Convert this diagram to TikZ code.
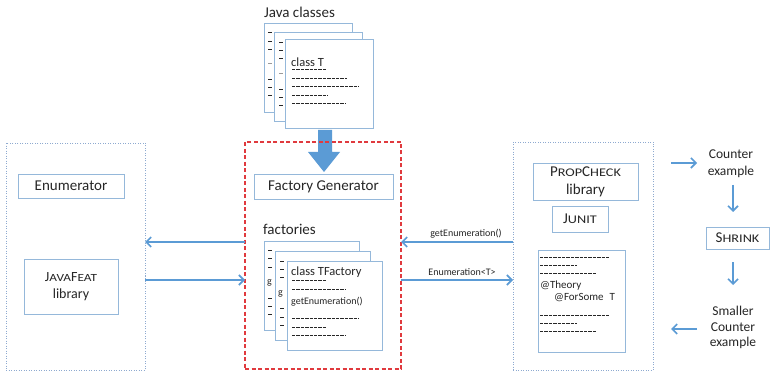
\documentclass[tikz,border=0pt]{standalone}
\usepackage{fontspec}
\usepackage{graphicx}
\setmainfont{Carlito}
\usetikzlibrary{arrows.meta}
\definecolor{bx}{HTML}{95B8DA}
\definecolor{ar}{HTML}{5B9BD5}
\definecolor{rd}{HTML}{E03A3E}
\definecolor{dt}{HTML}{8EAAD0}
\definecolor{tx}{HTML}{262626}
\definecolor{lg}{HTML}{9A9A9A}
\newcommand\sca[1]{\scalebox{0.95}[0.78]{#1}}
\begin{document}
\begin{tikzpicture}[x=1pt,y=-1pt,
  box/.style={draw=bx, line width=0.9pt, fill=white, inner sep=0pt, outer sep=0pt, align=center, text=tx},
  outerbox/.style={draw=dt, line width=0.8pt, dash pattern=on 1pt off 1.5pt, inner sep=0pt, outer sep=0pt},
  redbox/.style={draw=rd, line width=1.1pt, dash pattern=on 4pt off 2.5pt, inner sep=0pt, outer sep=0pt},
  arr/.style={draw=ar, line width=1.6pt, -{Straight Barb[length=5pt,width=10pt]}},
  dl/.style={line width=0.9pt, dash pattern=on 3.4pt off 1pt, tx},
  mk/.style={line width=0.9pt, tx},
  lbl/.style={text=tx, inner sep=0pt, align=center},
  big/.style={font=\fontsize{15}{18}\selectfont},
  mid/.style={font=\fontsize{12.5}{16}\selectfont},
  sml/.style={font=\fontsize{10}{12}\selectfont},
  cod/.style={font=\fontsize{11}{12}\selectfont},
]
\useasboundingbox (0,0) rectangle (770,371);
\fill[white] (0,0) rectangle (770,371);

% ---------- left group ----------
\node[outerbox, minimum width=139pt, minimum height=227pt] (lbox) at (75.5,256.5) {};
\node[box, big, minimum width=106pt, minimum height=24pt] (enum) at (71,186) {Enumerator};
\node[box, minimum width=94pt, minimum height=55pt, font=\fontsize{14}{17}\selectfont] (feat) at (71,286.5) {J\sca{AVA}F\sca{EAT}\\library};

% ---------- Java classes ----------
\node[lbl, big] (jc) at (299.5,12) {Java classes};
\node[box, minimum width=88pt, minimum height=89pt] (jp1) at (308,67.5) {};
\foreach \y in {32,41,49,79,87,95} \draw[mk] (268,\y) -- (272,\y);
\draw[line width=0.8pt, lg] (268,63) -- (272,63);
\node[box, minimum width=88pt, minimum height=89pt] (jp2) at (318.5,77) {};
\foreach \y in {42,50,58,89,97,105} \draw[mk] (279,\y) -- (283,\y);
\draw[line width=0.8pt, lg] (279,73) -- (283,73);
\node[box, minimum width=88pt, minimum height=89pt] (jp3) at (329.5,83.5) {};
\node[lbl, mid, anchor=west] (ct) at (291,62) {class T};
\draw[dl] (292,69) -- +(34,0);
\draw[dl] (292,78) -- +(55,0);
\draw[dl] (292,86) -- +(67,0);
\draw[dl] (292,95) -- +(36,0);
\draw[dl] (292,103) -- +(54,0);

% ---------- big arrow ----------
\fill[ar] (318,130) -- (332,130) -- (332,152) -- (340,152) -- (324,172) -- (308,152) -- (318,152) -- cycle;

% ---------- generator ----------
\node[redbox, minimum width=156pt, minimum height=227pt] (gen) at (323,255.5) {};
\node[box, big, minimum width=139pt, minimum height=25pt] (fg) at (323.5,186.5) {Factory Generator};
\node[lbl, big, anchor=west] (fac) at (263,229) {factories};
\node[box, minimum width=95pt, minimum height=89pt] (fp1) at (311.5,285.5) {};
\foreach \y in {250,258,267,298,306,314} \draw[mk] (268,\y) -- (272,\y);
\node[lbl, font=\fontsize{10}{12}\selectfont, anchor=west] at (267,283) {g};
\node[box, minimum width=95pt, minimum height=89pt] (fp2) at (322.5,295.5) {};
\foreach \y in {261,269,277,308,317,325} \draw[mk] (280,\y) -- (284,\y);
\node[lbl, font=\fontsize{10}{12}\selectfont, anchor=west] at (278,294) {g};
\node[box, minimum width=95pt, minimum height=89pt] (fp3) at (334.5,305.5) {};
\node[lbl, mid, anchor=west] (ctf) at (291,272) {class TFactory};
\draw[dl] (292,280) -- +(34,0);
\draw[dl] (292,289) -- +(54,0);
\node[lbl, sml, anchor=west] (ge) at (291,302) {getEnumeration()};
\draw[dl] (292,318) -- +(67,0);
\draw[dl] (292,327) -- +(35,0);
\draw[dl] (292,335) -- +(54,0);

% ---------- right group ----------
\node[outerbox, minimum width=140pt, minimum height=228pt] (rbox) at (583,256) {};
\node[box, big, minimum width=105pt, minimum height=37pt] (pc) at (585.5,181.5) {P\sca{ROP}C\sca{HECK}\\library};
\node[box, big, minimum width=56pt, minimum height=26pt] (ju) at (580,219) {J\sca{UNIT}};
\node[box, minimum width=87pt, minimum height=102pt] (code) at (581.5,301) {};
\draw[dl] (540,257) -- +(70,0);
\draw[dl] (540,265) -- +(37,0);
\draw[dl] (540,273) -- +(56,0);
\node[lbl, cod, anchor=west] (th) at (540,286) {@Theory};
\node[lbl, cod, anchor=west] (fs) at (554,298) {@ForSome\hspace{6pt}T};
\draw[dl] (540,315) -- +(70,0);
\draw[dl] (540,323) -- +(37,0);
\draw[dl] (540,331) -- +(56,0);

% ---------- connectors ----------
\coordinate (ya) at (0,242);
\coordinate (yb) at (0,280);
\draw[arr] (gen.west |- ya) -- (lbox.east |- ya);
\draw[arr] (lbox.east |- yb) -- (gen.west |- yb);
\draw[arr] (rbox.west |- ya) -- (gen.east |- ya);
\draw[arr] (gen.east |- yb) -- (rbox.west |- yb);
\node[lbl, sml] (l1) at (466,234) {getEnumeration()};
\node[lbl, sml] (l2) at (462,272) {Enumeration<T>};

% ---------- shrink loop ----------
\node[lbl, font=\fontsize{13.5}{17}\selectfont] (ce) at (731,163.5) {Counter\\example};
\node[box, big, minimum width=63pt, minimum height=22pt] (sh) at (737.5,238) {S\sca{HRINK}};
\node[lbl, font=\fontsize{13.5}{15.5}\selectfont] (sce) at (733,327.5) {Smaller\\Counter\\example};
\coordinate (c1) at (671,163);
\coordinate (c2) at (697,163);
\draw[arr] (c1) -- (c2);
\draw[arr] (733,185) -- (733,212);
\draw[arr] (733,262) -- (733,285);
\coordinate (c3) at (697,329);
\coordinate (c4) at (671,329);
\draw[arr] (c3) -- (c4);
\end{tikzpicture}
\end{document}
